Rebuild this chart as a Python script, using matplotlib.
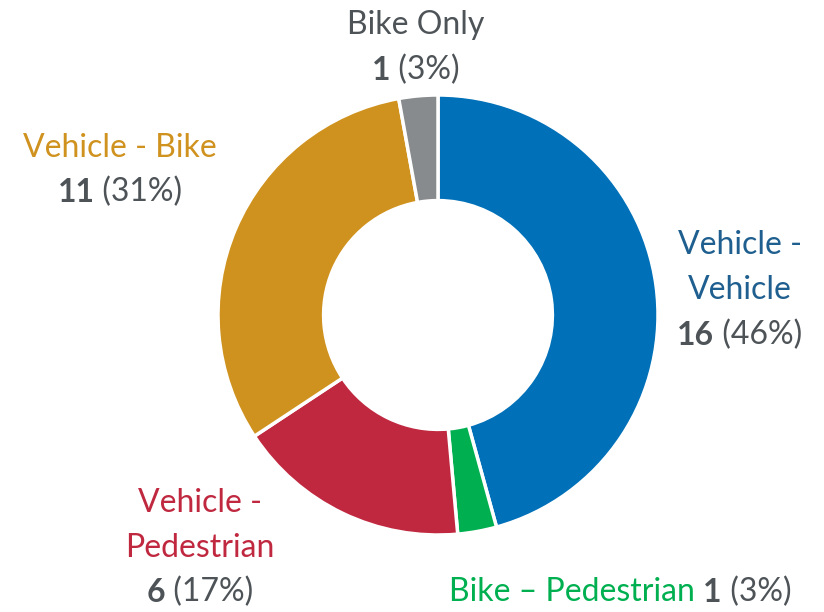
import matplotlib
matplotlib.use("Agg")
import matplotlib.pyplot as plt

categories = ["Vehicle - Vehicle", "Bike – Pedestrian", "Vehicle - Pedestrian", "Vehicle - Bike", "Bike Only"]
values = [16, 1, 6, 11, 1]
colors = ["#0070B8", "#00B050", "#C0283F", "#D0921E", "#888B8D"]
label_colors = ["#1F5F8F", "#00B050", "#C0283F", "#D0921E", "#4D5357"]
num_color = "#4D5357"

W, H, DPI = 824, 612, 100
cx, cy, R = 438, 315, 220

plt.rcParams['font.family'] = ['Lato', 'DejaVu Sans']
fig = plt.figure(figsize=(W / DPI, H / DPI), dpi=DPI)
ax = fig.add_axes([0, 0, 1, 1])

ax.pie(values, colors=colors, startangle=90, counterclock=False, radius=1,
       wedgeprops=dict(width=0.48, edgecolor='white', linewidth=2.5))
ax.set_xlim(-cx / R, (W - cx) / R)
ax.set_ylim(-(H - cy) / R, cy / R)
ax.set_aspect('equal')
ax.axis('off')

total = sum(values)
FS = 23

def px(x, y):
    return ((x - cx) / R, (cy - y) / R)

renderer = fig.canvas.get_renderer()

def line(parts, x, y):
    texts = []
    for t, c, w in parts:
        texts.append(ax.text(0, 0, t, color=c, fontweight=w, fontsize=FS, va='center', ha='left'))
    widths = [tt.get_window_extent(renderer).width for tt in texts]
    tot = sum(widths)
    start = x - tot / 2
    for tt, wd in zip(texts, widths):
        tt.set_position(px(start, y))
        start += wd

def pct(v):
    return f" ({round(100 * v / total)}%)"

line([(categories[4], label_colors[4], 'normal')], 416, 25)
line([(str(values[4]), num_color, 'bold'), (pct(values[4]), num_color, 'normal')], 416, 70)

line([(categories[3], label_colors[3], 'normal')], 120, 148)
line([(str(values[3]), num_color, 'bold'), (pct(values[3]), num_color, 'normal')], 120, 192)

line([("Vehicle -", label_colors[0], 'normal')], 740, 245)
line([("Vehicle", label_colors[0], 'normal')], 740, 290)
line([(str(values[0]), num_color, 'bold'), (pct(values[0]), num_color, 'normal')], 740, 335)

line([("Vehicle -", label_colors[2], 'normal')], 200, 503)
line([("Pedestrian", label_colors[2], 'normal')], 200, 548)
line([(str(values[2]), num_color, 'bold'), (pct(values[2]), num_color, 'normal')], 200, 592)

line([(categories[1] + " ", label_colors[1], 'normal'), (str(values[1]), num_color, 'bold'),
      (pct(values[1]), num_color, 'normal')], 620, 592)

fig.savefig("out.png", dpi=DPI)
